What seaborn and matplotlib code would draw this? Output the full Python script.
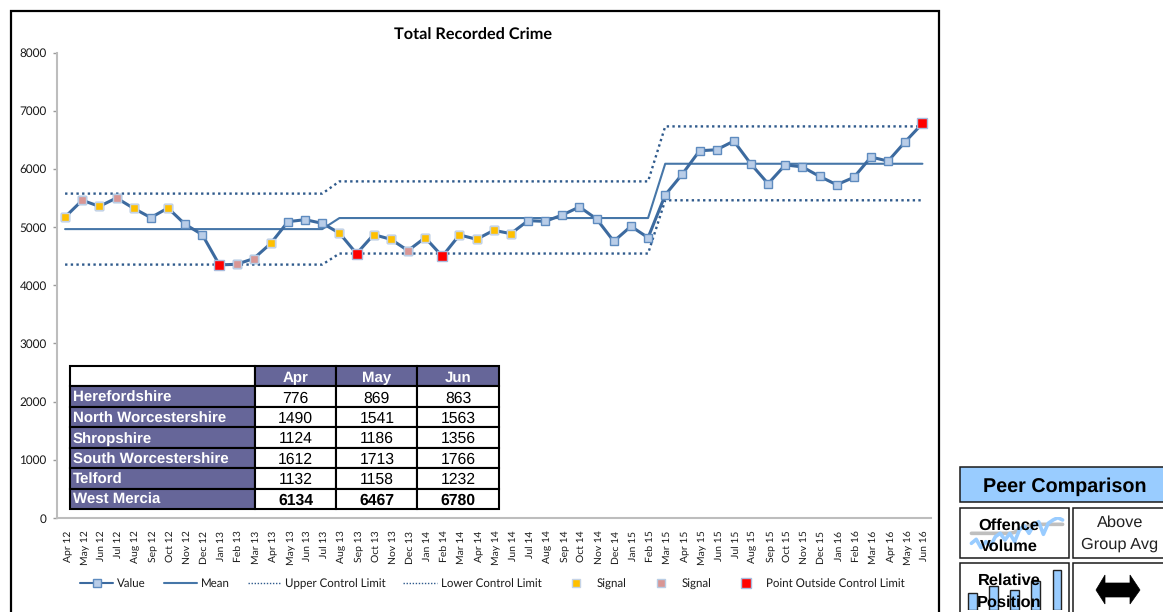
import matplotlib
matplotlib.use("Agg")
import matplotlib.pyplot as plt
import numpy as np
import pandas as pd
import seaborn as sns
from matplotlib.patches import Rectangle, Polygon
from matplotlib.lines import Line2D
from matplotlib.transforms import ScaledTranslation

months = ["Apr 12","May 12","Jun 12","Jul 12","Aug 12","Sep 12","Oct 12","Nov 12","Dec 12","Jan 13","Feb 13","Mar 13",
          "Apr 13","May 13","Jun 13","Jul 13","Aug 13","Sep 13","Oct 13","Nov 13","Dec 13","Jan 14","Feb 14","Mar 14",
          "Apr 14","May 14","Jun 14","Jul 14","Aug 14","Sep 14","Oct 14","Nov 14","Dec 14","Jan 15","Feb 15","Mar 15",
          "Apr 15","May 15","Jun 15","Jul 15","Aug 15","Sep 15","Oct 15","Nov 15","Dec 15","Jan 16","Feb 16","Mar 16",
          "Apr 16","May 16","Jun 16"]
values = [5172,5460,5356,5500,5322,5162,5328,5047,4870,4350,4360,4458,
          4720,5093,5127,5064,4897,4543,4870,4790,4595,4818,4497,4865,
          4790,4944,4887,5110,5098,5208,5346,5139,4755,5013,4818,5552,
          5911,6311,6329,6478,6083,5745,6068,6034,5871,5728,5854,6203,
          6134,6467,6780]
mean = [4965]*16 + [5155]*19 + [6088]*16
ucl = [5575]*16 + [5785]*19 + [6730]*16
lcl = [4355]*16 + [4545]*19 + [5460]*16
signal_yellow = ["Apr 12","Jun 12","Aug 12","Oct 12","Apr 13","Aug 13","Oct 13","Nov 13","Jan 14","Mar 14","Apr 14","May 14","Jun 14"]
signal_pink = ["May 12","Jul 12","Feb 13","Mar 13","Dec 13"]
signal_red = ["Jan 13","Sep 13","Feb 14","Jun 16"]

table_months = ["Apr","May","Jun"]
areas = ["Herefordshire","North Worcestershire","Shropshire","South Worcestershire","Telford","West Mercia"]
apr = [776,1490,1124,1612,1132,6134]
may = [869,1541,1186,1713,1158,6467]
jun = [863,1563,1356,1766,1232,6780]

spark_blue = [115,103,128,110,122,95,85,105,85,110,75,62,85,60,50,88,55,45,38,45]
spark_grey = [85,85,85,85,85,85,85,85,85,82,72,66,62,58,58,58,58,58,58,58]
rank_bars = [16,23,19,28,39]

W, H = 1163, 612
sns.set_theme(style="white")
plt.rcParams["font.family"] = ["Lato", "DejaVu Sans"]
plt.rcParams["text.hinting"] = "no_hinting"
fig = plt.figure(figsize=(W/100, H/100), dpi=100, facecolor="white")

def px_axes(x0, y0, x1, y1, **kw):
    return fig.add_axes([x0/W, 1-y1/H, (x1-x0)/W, (y1-y0)/H], **kw)

# pixel overlay for frames
bg = px_axes(0, 0, W, H, zorder=0)
bg.set_xlim(0, W); bg.set_ylim(H, 0); bg.axis("off")
bg.add_patch(Rectangle((10.5, 10.5), 928, 640, fc="white", ec="black", lw=1.6, clip_on=True))

df = pd.DataFrame({"month": months, "value": values, "mean": mean, "ucl": ucl, "lcl": lcl})
ax = px_axes(56.5, 52.5, 931, 518, zorder=2)
ax.patch.set_alpha(0)
LINE = "#3C6A9F"
MEAN = "#4676A8"
DOT = "#2F5A8C"
dots = (0, (1, 1.4))
sns.lineplot(data=df, x="month", y="ucl", ax=ax, color=DOT, lw=1.7, linestyle=dots, sort=False, label="Upper Control Limit", zorder=2)
sns.lineplot(data=df, x="month", y="lcl", ax=ax, color=DOT, lw=1.7, linestyle=dots, sort=False, label="Lower Control Limit", zorder=2)
sns.lineplot(data=df, x="month", y="mean", ax=ax, color=MEAN, lw=1.5, sort=False, label="Mean", zorder=3)
sns.lineplot(data=df, x="month", y="value", ax=ax, color=LINE, lw=2.2, sort=False, marker="s", markersize=6.2,
             markerfacecolor="#B9CDE8", markeredgecolor="#5E8BBF", markeredgewidth=1.0, label="Value", zorder=4)

def sig(names, face, edge, size, label):
    d = df[df["month"].isin(names)]
    ax.plot(d["month"], d["value"], ls="none", marker="s", ms=size, mfc=face, mec=edge, mew=1.0, zorder=5, label=label)
sig(signal_yellow, "#FFC000", "#C5D3E6", 5.8, "Signal")
sig(signal_pink, "#D99694", "#B9CDE5", 5.8, "Signal ")
sig(signal_red, "#FF0000", "#A9BCDD", 6.6, "Point Outside Control Limit")

ax.set_xlim(-0.5, 50.5)
ax.set_ylim(0, 8000)
ax.set_yticks(range(0, 8001, 1000))
ax.set_xlabel(""); ax.set_ylabel("")
for s in ("top", "right"):
    ax.spines[s].set_visible(False)
for s in ("left", "bottom"):
    ax.spines[s].set_color("#BDBDBD"); ax.spines[s].set_linewidth(1.5)
ax.tick_params(axis="y", left=True, length=3, width=1, color="#9A9A9A", labelsize=8.5, labelcolor="#1a1a1a", pad=4)
ax.tick_params(axis="x", bottom=False, labelsize=7.5, labelcolor="#1a1a1a", pad=3)
shift = ScaledTranslation(2/100, 0, fig.dpi_scale_trans)
for lab in ax.get_xticklabels():
    lab.set_rotation(90); lab.set_ha("center"); lab.set_va("top")
    lab.set_transform(lab.get_transform() + shift)
fig.text(473/W, 1-35/H, "Total Recorded Crime", ha="center", va="center", fontsize=11.7, fontweight="bold", color="black")

h, l = ax.get_legend_handles_labels()
lookup = dict(zip(l, h))
order = ["Value", "Mean", "Upper Control Limit", "Lower Control Limit", "Signal", "Signal ", "Point Outside Control Limit"]
dot_handle = lambda: Line2D([], [], color=DOT, lw=1.0, linestyle=(0, (1, 1.2)))
value_handle = Line2D([], [], color=LINE, lw=1.5, marker="s", ms=6, mfc="#B9CDE8", mec="#5E8BBF", mew=1.0)
handles = [value_handle, lookup["Mean"], dot_handle(), dot_handle(), lookup["Signal"], lookup["Signal "], lookup["Point Outside Control Limit"]]
leg = fig.legend(handles, [o.strip() for o in order], ncol=7, loc="center", bbox_to_anchor=(492.5/W, 1-584/H),
                 frameon=False, fontsize=8.3, handlelength=2.9, handletextpad=0.33, columnspacing=1.55, labelcolor="#1a1a1a",
                 borderpad=0, borderaxespad=0)
ax.get_legend().remove() if ax.get_legend() else None

# data table
tx = px_axes(70, 366, 499.5, 509, zorder=3)
tx.axis("off")
cells = [[""] + table_months] + [[a, str(x), str(y), str(z)] for a, x, y, z in zip(areas, apr, may, jun)]
tbl = tx.table(cellText=cells, bbox=[0, 0, 1, 1], colWidths=[185/429, 81/429, 81/429, 82/429], cellLoc="center")
tbl.auto_set_font_size(False)
PURPLE = "#666699"
for (r, c), cell in tbl.get_celld().items():
    cell.set_edgecolor("black"); cell.set_linewidth(1.5)
    t = cell.get_text()
    t.set_fontfamily("Liberation Sans"); t.set_fontsize(11.3)
    t.set_va("center_baseline")
    if r == 0 and c == 0:
        cell.set_facecolor("white")
    elif r == 0 or c == 0:
        cell.set_facecolor(PURPLE); t.set_color("white"); t.set_fontweight("bold"); t.set_fontsize(10.85)
        if c == 0:
            t.set_ha("left"); cell.PAD = 0.015
    else:
        cell.set_facecolor("white"); t.set_color("black")
        if r == 6:
            t.set_fontweight("bold")

# peer comparison panel
def box(x0, y0, x1, y1, fc="white"):
    bg.add_patch(Rectangle((x0, y0), x1-x0, y1-y0, fc=fc, ec="#1a1a1a", lw=1.1))
box(960, 467, 1175, 502, "#99CCFF")
box(960, 508, 1069, 558)
box(1073, 508, 1175, 558)
box(960, 563, 1069, 640)
box(1073, 563, 1175, 640)

sp = px_axes(969, 517, 1065, 553, zorder=3)
sp.axis("off"); sp.patch.set_alpha(0)
xs = np.arange(len(spark_blue))
sns.lineplot(x=xs, y=spark_grey, ax=sp, color="#BFBFBF", lw=2.6, legend=False)
sns.lineplot(x=xs, y=spark_blue, ax=sp, color="#99CCFF", lw=2.6, legend=False)
sp.set_ylim(144, 36); sp.set_xlim(-0.5, 19.5)
sp.set_xlabel(""); sp.set_ylabel("")

br = px_axes(962, 568, 1067.5, 609.5, zorder=3)
br.patch.set_alpha(0)
br.bar(range(5), rank_bars, width=0.42, color="#99CCFF", edgecolor="#222222", lw=1)
br.set_xlim(-0.5, 4.5); br.set_ylim(0, 41); br.axis("off")

tp = px_axes(0, 0, W, H, zorder=6)
tp.set_xlim(0, W); tp.set_ylim(H, 0); tp.axis("off"); tp.patch.set_alpha(0)
F = "Liberation Sans"
tp.text(1065, 487, "Peer Comparison", ha="center", va="center", fontsize=14.2, fontweight="bold", family=F, color="black")
tp.text(1008.5, 526, "Offence", ha="center", va="center", fontsize=11.8, fontweight="bold", family=F, color="black")
tp.text(1009, 547, "Volume", ha="center", va="center", fontsize=11.8, fontweight="bold", family=F, color="black")
tp.text(1120, 523, "Above", ha="center", va="center", fontsize=11.8, family=F, color="#222222")
tp.text(1120, 545, "Group Avg", ha="center", va="center", fontsize=11.8, family=F, color="#222222")
tp.text(1009.5, 581, "Relative", ha="center", va="center", fontsize=11.8, fontweight="bold", family=F, color="black")
tp.text(1009, 603, "Position", ha="center", va="center", fontsize=11.8, fontweight="bold", family=F, color="black")
tp.add_patch(Polygon([(1096, 590), (1105, 575), (1105, 583), (1130, 583), (1130, 575), (1140, 590),
                      (1130, 604), (1130, 597), (1105, 597), (1105, 604)], closed=True, fc="black", ec="black", lw=0.5))

fig.savefig("out.png", dpi=100)
